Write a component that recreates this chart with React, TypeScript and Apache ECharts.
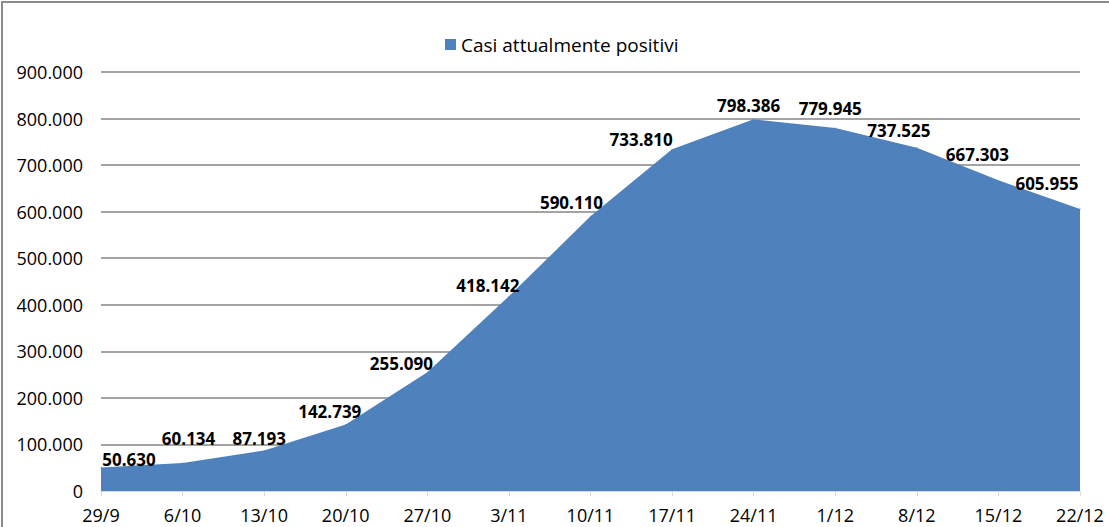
import React, { useEffect, useRef } from "react";
import * as echarts from "echarts";

const categories = ["29/9", "6/10", "13/10", "20/10", "27/10", "3/11", "10/11", "17/11", "24/11", "1/12", "8/12", "15/12", "22/12"];
const values = [50630, 60134, 87193, 142739, 255090, 418142, 590110, 733810, 798386, 779945, 737525, 667303, 605955];
const seriesName = "Casi attualmente positivi";
// label center offsets relative to the point (styling, not data)
const labelOffsets: [number, number][] = [
  [28, -8], [6, -25], [-5, -12], [-16, -13], [-26, -9], [-21, -11], [-19, -14],
  [-31, -10], [-5, -14], [-5, -19], [-18, -17], [-21, -26], [-33, -25],
];

const fmt = (v: number) => String(Math.round(v)).replace(/\B(?=(\d{3})+(?!\d))/g, ".");
const FONT = "Open Sans";

export default function App() {
  const ref = useRef<HTMLDivElement>(null);
  useEffect(() => {
    document.body.style.margin = "0";
    const chart = echarts.init(ref.current!, null, { renderer: "svg" });
    chart.setOption({
      animation: false,
      backgroundColor: "#ffffff",
      textStyle: { fontFamily: FONT },
      graphic: [
        {
          type: "rect",
          shape: { x: 2, y: 2, width: 1200, height: 700 },
          style: { fill: "none", stroke: "#8c8c8c", lineWidth: 2 },
          silent: true,
        },
      ],
      legend: {
        left: 440,
        top: 30,
        itemWidth: 11,
        itemHeight: 11,
        icon: "rect",
        itemGap: 6,
        textStyle: { fontFamily: FONT, fontSize: 19, color: "#000" },
        data: [seriesName],
      },
      grid: { left: 101, right: 29, top: 72, bottom: 36 },
      xAxis: {
        type: "category",
        data: categories,
        boundaryGap: false,
        axisLine: { show: true, lineStyle: { color: "#d9d9d9", width: 1 } },
        axisTick: { show: true, length: 5, lineStyle: { color: "#d9d9d9" } },
        axisLabel: { color: "#000", fontFamily: FONT, fontSize: 18, margin: 15 },
      },
      yAxis: {
        type: "value",
        min: 0,
        max: 900000,
        interval: 100000,
        axisLine: { show: false },
        axisTick: { show: false },
        axisLabel: { color: "#000", fontFamily: FONT, fontSize: 18, margin: 18, formatter: (v: number) => fmt(v) },
        splitLine: { show: true, lineStyle: { color: "#868686", width: 1.5 } },
      },
      series: [
        {
          name: seriesName,
          type: "line",
          data: values.map((v, i) => ({
            value: v,
            label: { offset: labelOffsets[i] },
          })),
          symbol: "circle",
          symbolSize: 1,
          showSymbol: true,
          itemStyle: { color: "#4f81bd" },
          lineStyle: { width: 0, color: "#4f81bd" },
          areaStyle: { color: "#4f81bd", opacity: 1 },
          label: {
            show: true,
            position: "inside",
            align: "center",
            verticalAlign: "middle",
            color: "#000",
            fontFamily: FONT,
            fontWeight: "bold",
            fontSize: 17,
            formatter: (p: any) => fmt(p.value),
          },
          z: 3,
        },
      ],
    });
    return () => chart.dispose();
  }, []);
  return <div ref={ref} style={{ position: "fixed", left: 0, top: 0, width: 1109, height: 527 }} />;
}
